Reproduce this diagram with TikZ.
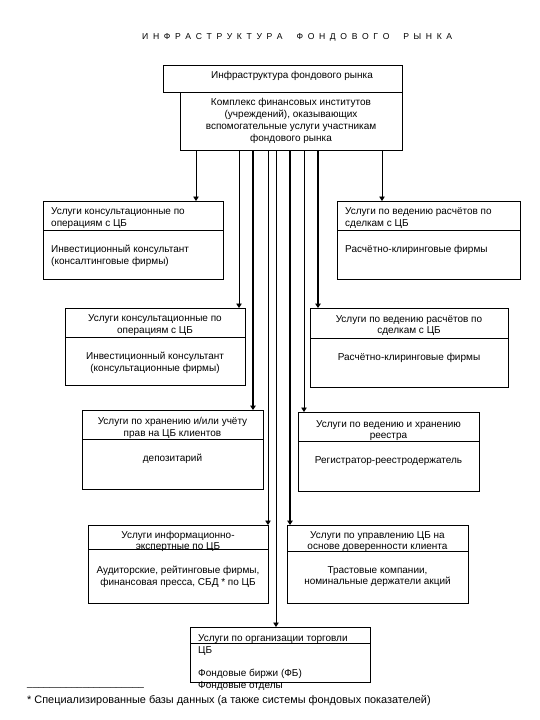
\documentclass[tikz,border=0pt]{standalone}
\usepackage{fontspec}
\setmainfont{Liberation Sans}
\usetikzlibrary{arrows.meta}
\newcommand{\fs}{\fontsize{10}{11.8}\selectfont}
\begin{document}
\begin{tikzpicture}[x=1pt,y=-1pt,
 part/.style={draw, line width=0.6pt, inner sep=0pt, outer sep=0pt, anchor=north west},
 ctxt/.style={inner sep=0pt, font=\fs, align=center, anchor=north},
 ltxt/.style={inner sep=0pt, font=\fs, align=left, anchor=north west},
 thinarr/.style={line width=0.7pt, -{Triangle[width=5.5pt,length=4.5pt]}},
 thickarr/.style={line width=1.6pt, -{Triangle[width=5.5pt,length=4.5pt]}}]
\useasboundingbox (0,0) rectangle (540,720);
\fill[white] (0,0) rectangle (540,720);

% title
\node[inner sep=0pt, anchor=west, font=\fontsize{8.6}{10}\selectfont] (title) at (142,37)
 {\makebox[310pt][s]{И\hfil Н\hfil Ф\hfil Р\hfil А\hfil С\hfil Т\hfil Р\hfil У\hfil К\hfil Т\hfil У\hfil Р\hfil А\hfil\hfil\hfil Ф\hfil О\hfil Н\hfil Д\hfil О\hfil В\hfil О\hfil Г\hfil О\hfil\hfil\hfil Р\hfil Ы\hfil Н\hfil К\hfil А}};

% top boxes
\node[part, minimum width=239pt, minimum height=27pt] (top) at (163,65) {};
\node[inner sep=0pt, font=\fs] (toptext) at (292,76) {Инфраструктура фондового рынка};
\node[part, minimum width=222pt, minimum height=58pt, font=\fs, align=center] (comp) at (180,92)
 {Комплекс финансовых институтов\\(учреждений), оказывающих\\вспомогательные услуги участникам\\фондового рынка};

% B1
\node[part, minimum width=180pt, minimum height=29pt] (b1h) at (43,201) {};
\node[part, minimum width=180pt, minimum height=49pt] (b1b) at (b1h.south west) {};
\node[ltxt] (b1ht) at ([xshift=8pt,yshift=-6.5pt]b1h.north west) {Услуги консультационные по\\операциям с ЦБ};
\node[ltxt] (b1bt) at ([xshift=8pt,yshift=-15pt]b1b.north west) {Инвестиционный консультант\\(консалтинговые фирмы)};
% B2
\node[part, minimum width=183pt, minimum height=29pt] (b2h) at (337,201) {};
\node[part, minimum width=183pt, minimum height=49pt] (b2b) at (b2h.south west) {};
\node[ltxt] (b2ht) at ([xshift=8pt,yshift=-6.5pt]b2h.north west) {Услуги по ведению расчётов по\\сделкам с ЦБ};
\node[ltxt] (b2bt) at ([xshift=8pt,yshift=-15pt]b2b.north west) {Расчётно-клиринговые фирмы};
% B3
\node[part, minimum width=180pt, minimum height=29pt] (b3h) at (65,308) {};
\node[part, minimum width=180pt, minimum height=48pt] (b3b) at (b3h.south west) {};
\node[ctxt] (b3ht) at ([yshift=-6.5pt]b3h.north) {Услуги консультационные по\\операциям с ЦБ};
\node[ctxt] (b3bt) at ([yshift=-15pt]b3b.north) {Инвестиционный консультант\\(консультационные фирмы)};
% B4
\node[part, minimum width=198pt, minimum height=30pt] (b4h) at (310,308) {};
\node[part, minimum width=198pt, minimum height=49pt] (b4b) at (b4h.south west) {};
\node[ctxt] (b4ht) at ([yshift=-7pt]b4h.north) {Услуги по ведению расчётов по\\сделкам с ЦБ};
\node[ctxt] (b4bt) at ([yshift=-15pt]b4b.north) {Расчётно-клиринговые фирмы};
% B5
\node[part, minimum width=181pt, minimum height=29pt] (b5h) at (82,410) {};
\node[part, minimum width=181pt, minimum height=50pt] (b5b) at (b5h.south west) {};
\node[ctxt] (b5ht) at ([yshift=-7pt]b5h.north) {Услуги по хранению и/или учёту\\прав на ЦБ клиентов};
\node[ctxt] (b5bt) at ([yshift=-15pt]b5b.north) {депозитарий};
% B6
\node[part, minimum width=181pt, minimum height=29pt] (b6h) at (298,412) {};
\node[part, minimum width=181pt, minimum height=50pt] (b6b) at (b6h.south west) {};
\node[ctxt] (b6ht) at ([yshift=-8pt]b6h.north) {Услуги по ведению и хранению\\реестра};
\node[ctxt] (b6bt) at ([yshift=-15pt]b6b.north) {Регистратор-реестродержатель};
% B7
\node[part, minimum width=180pt, minimum height=24pt] (b7h) at (88,525) {};
\node[part, minimum width=180pt, minimum height=54pt] (b7b) at (b7h.south west) {};
\node[ctxt, font=\fontsize{10}{10.8}\selectfont] (b7ht) at ([yshift=-6pt]b7h.north) {Услуги информационно-\\экспертные по ЦБ};
\node[ctxt] (b7bt) at ([yshift=-17pt]b7b.north) {Аудиторские, рейтинговые фирмы,\\финансовая пресса, СБД * по ЦБ};
% B8
\node[part, minimum width=181pt, minimum height=26pt] (b8h) at (287,525) {};
\node[part, minimum width=181pt, minimum height=52pt] (b8b) at (b8h.south west) {};
\node[ctxt, font=\fontsize{10}{10.8}\selectfont] (b8ht) at ([yshift=-6.5pt]b8h.north) {Услуги по управлению ЦБ на\\основе доверенности клиента};
\node[ctxt] (b8bt) at ([yshift=-15pt]b8b.north) {Трастовые компании,\\номинальные держатели акций};
% B9
\node[part, minimum width=180pt, minimum height=16pt] (b9h) at (190,627) {};
\node[ltxt] (b9ht) at ([xshift=8pt,yshift=-7pt]b9h.north west) {Услуги по организации торговли};
\node[ltxt] (b9bt) at ([xshift=8pt,yshift=-3pt]b9h.south west) {ЦБ\\[12pt]Фондовые биржи (ФБ)\\Фондовые отделы};
\node[part, minimum width=180pt, minimum height=39pt] (b9b) at (b9h.south west) {};

% footnote
\node[inner sep=0pt, anchor=base west, font=\fs] (fnline) at (27,686) {\_\_\_\_\_\_\_\_\_\_\_\_\_\_\_\_\_\_\_\_\_};
\node[inner sep=0pt, anchor=base west, font=\fontsize{10.9}{12}\selectfont] (fntext) at (27,703.5) {* Специализированные базы данных (а также системы фондовых показателей)};

% connectors
\coordinate (x196) at (196,0);
\coordinate (x239) at (239,0);
\coordinate (x253) at (253,0);
\coordinate (x268) at (268,0);
\coordinate (x276) at (276,0);
\coordinate (x290) at (290,0);
\coordinate (x304) at (304,0);
\coordinate (x318) at (318,0);
\coordinate (x382) at (382,0);
\draw[thinarr] (comp.south -| x196) -- (b1h.north -| x196);
\draw[thinarr] (comp.south -| x382) -- (b2h.north -| x382);
\draw[thinarr] (comp.south -| x239) -- (b3h.north -| x239);
\draw[thickarr] (comp.south -| x318) -- (b4h.north -| x318);
\draw[thickarr] (comp.south -| x253) -- (b5h.north -| x253);
\draw[thinarr] (comp.south -| x304) -- (b6h.north -| x304);
\draw[thinarr] (comp.south -| x268) -- (b7h.north -| x268);
\draw[thickarr] (comp.south -| x290) -- (b8h.north -| x290);
\draw[thinarr] (comp.south -| x276) -- (b9h.north -| x276);
\end{tikzpicture}
\end{document}
